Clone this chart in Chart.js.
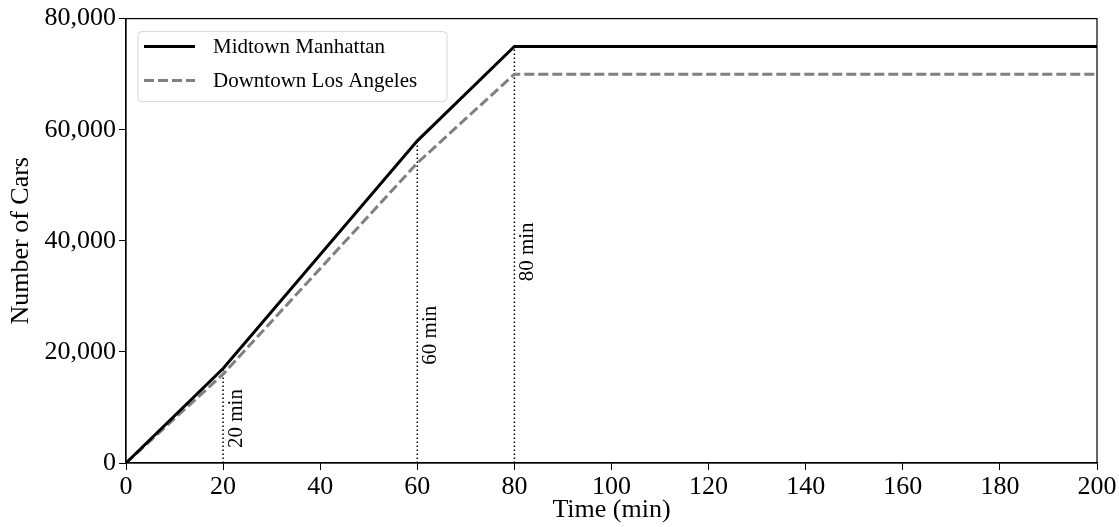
<!DOCTYPE html>
<html>
<head>
<meta charset="utf-8">
<title>cars</title>
<script src="https://cdn.jsdelivr.net/npm/chart.js"></script>
<style>
  html, body { margin: 0; padding: 0; background: #fff; }
  #wrap { width: 1119px; height: 527px; }
</style>
</head>
<body>
<div id="wrap"><canvas id="myChart"></canvas></div>
<script>
// data
const timeMin = [0, 20, 60, 80, 200];
const midtown = [0, 17000, 58000, 75000, 75000];
const downtown = [0, 16000, 54000, 70000, 70000];
const markerTimes = [20, 60, 80];
const markerLabels = ['20 min', '60 min', '80 min'];
const markerLabelY = [8000, 23000, 38000];
const seriesNames = ['Midtown Manhattan', 'Downtown Los Angeles'];

const FONT = "'Liberation Serif', 'Times New Roman', serif";

function toPoints(xs, ys) {
    return xs.map((x, i) => ({ x: x, y: ys[i] }));
}

var datasets = [{
    label: seriesNames[0],
    data: toPoints(timeMin, midtown),
    borderColor: '#000000',
    borderWidth: 3,
    pointRadius: 0,
    tension: 0
}, {
    label: seriesNames[1],
    data: toPoints(timeMin, downtown),
    borderColor: '#808080',
    borderWidth: 3,
    borderDash: [10, 4],
    pointRadius: 0,
    tension: 0
}];

// dotted markers from 0 up to the Midtown value
markerTimes.forEach(t => {
    var top = midtown[timeMin.indexOf(t)];
    datasets.push({
        label: 'marker',
        data: [{ x: t, y: 0 }, { x: t, y: top }],
        borderColor: '#000000',
        borderWidth: 1.5,
        borderDash: [1.5, 2.5],
        pointRadius: 0
    });
});

const extras = {
    id: 'extras',
    afterDatasetsDraw(chart) {
        const ctx = chart.ctx;
        const a = chart.chartArea;
        const xs = chart.scales.x, ys = chart.scales.y;
        ctx.save();
        // marker labels
        ctx.fillStyle = '#000';
        ctx.font = '21px ' + FONT;
        ctx.textAlign = 'center';
        ctx.textBaseline = 'middle';
        markerTimes.forEach((t, i) => {
            ctx.save();
            ctx.translate(xs.getPixelForValue(t) + 13, ys.getPixelForValue(markerLabelY[i]));
            ctx.rotate(-Math.PI / 2);
            ctx.fillText(markerLabels[i], 0, 0);
            ctx.restore();
        });
        // frame
        ctx.strokeStyle = '#000';
        ctx.lineWidth = 1.2;
        ctx.strokeRect(a.left, a.top, a.right - a.left, a.bottom - a.top);
        // legend
        var bx = a.left + 12, by = a.top + 13, bw = 309, bh = 70;
        ctx.beginPath();
        ctx.roundRect(bx, by, bw, bh, 4);
        ctx.fillStyle = 'rgba(255,255,255,0.85)';
        ctx.fill();
        ctx.strokeStyle = '#d6d6d6';
        ctx.lineWidth = 1;
        ctx.stroke();
        ctx.font = '21px ' + FONT;
        ctx.textAlign = 'left';
        ctx.textBaseline = 'middle';
        [0, 1].forEach(i => {
            var ds = chart.data.datasets[i];
            var ly = by + 15 + i * 34;
            ctx.beginPath();
            ctx.setLineDash(ds.borderDash || []);
            ctx.strokeStyle = ds.borderColor;
            ctx.lineWidth = ds.borderWidth;
            ctx.moveTo(bx + 6, ly);
            ctx.lineTo(bx + 57, ly);
            ctx.stroke();
            ctx.setLineDash([]);
            ctx.fillStyle = '#000';
            ctx.fillText(ds.label, bx + 75, ly + 1);
        });
        ctx.restore();
    }
};

var ctx = document.getElementById('myChart').getContext('2d');
var myChart = new Chart(ctx, {
    type: 'line',
    data: { datasets: datasets },
    options: {
        responsive: true,
        maintainAspectRatio: false,
        animation: false,
        layout: { padding: { top: 17, right: 22, left: 0, bottom: 0 } },
        plugins: {
            legend: { display: false },
            tooltip: { enabled: false }
        },
        scales: {
            x: {
                type: 'linear',
                min: 0,
                max: 200,
                border: { display: true, color: '#000', width: 1.2 },
                grid: { drawOnChartArea: false, drawTicks: true, tickLength: 7, color: '#000' },
                ticks: {
                    stepSize: 20,
                    color: '#000',
                    padding: 2,
                    maxRotation: 0,
                    font: { family: FONT, size: 26 }
                },
                title: {
                    display: true,
                    text: 'Time (min)',
                    color: '#000',
                    padding: { top: 0, bottom: 1 },
                    font: { family: FONT, size: 26 }
                },
                afterFit(s) { s.height = 64; }
            },
            y: {
                min: 0,
                max: 80000,
                border: { display: true, color: '#000', width: 1.2 },
                grid: { drawOnChartArea: false, drawTicks: true, tickLength: 7, color: '#000' },
                ticks: {
                    stepSize: 20000,
                    color: '#000',
                    padding: 3,
                    font: { family: FONT, size: 26 },
                    callback: v => v.toLocaleString('en-US')
                },
                title: {
                    display: true,
                    text: 'Number of Cars',
                    color: '#000',
                    padding: { top: 6, bottom: 0 },
                    font: { family: FONT, size: 26 }
                },
                afterFit(s) { s.width = 126; }
            }
        }
    },
    plugins: [extras]
});
</script>
</body>
</html>
